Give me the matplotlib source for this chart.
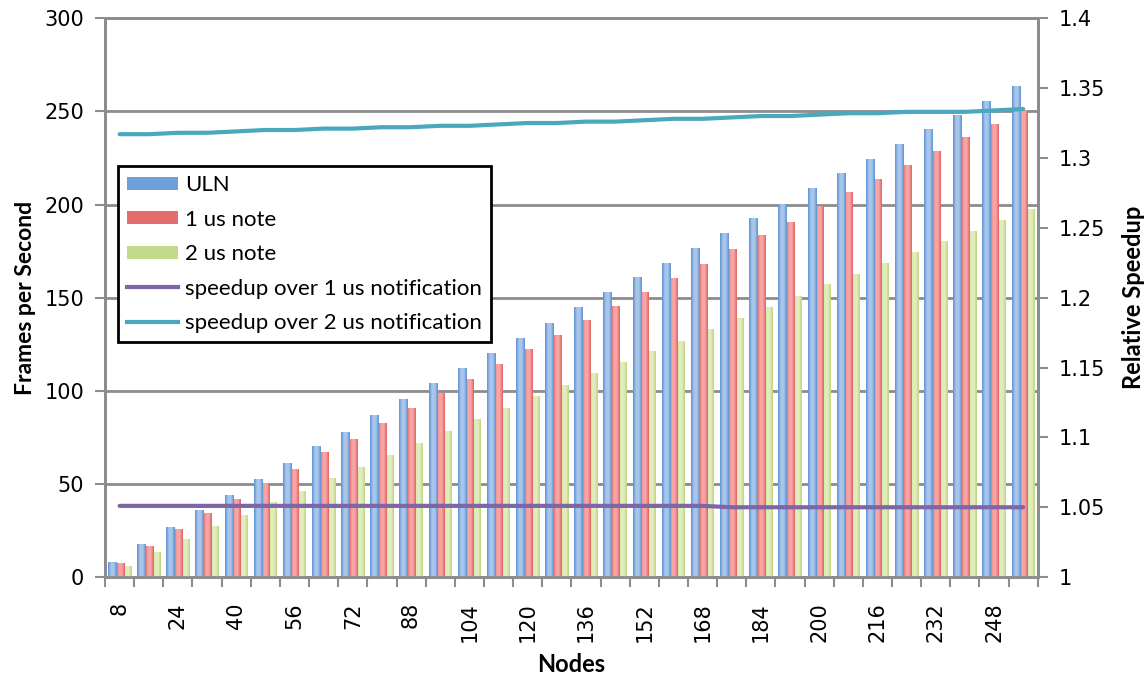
import numpy as np
import matplotlib
matplotlib.use("Agg")
import matplotlib.pyplot as plt
from matplotlib.colors import LinearSegmentedColormap
from matplotlib.patches import Patch
from matplotlib.lines import Line2D

# Node counts on the x axis
nodes = [8, 16, 24, 32, 40, 48, 56, 64, 72, 80, 88, 96, 104, 112, 120, 128,
         136, 144, 152, 160, 168, 176, 184, 192, 200, 208, 216, 224, 232, 240, 248, 256]

# Frames per second for each notification scheme
fps_uln = [8.0, 17.6, 26.9, 35.9, 43.9, 52.9, 61.3, 70.3, 78.0, 87.0, 95.4, 104.0,
           112.0, 120.4, 128.6, 136.4, 145.0, 153.0, 161.1, 168.6, 176.7, 184.9,
           192.8, 200.5, 209.1, 217.0, 224.7, 232.4, 240.3, 248.0, 255.7, 263.6]
fps_1us = [7.6, 16.7, 25.6, 34.2, 41.8, 50.3, 58.3, 66.9, 74.2, 82.8, 90.8, 99.0,
           106.6, 114.6, 122.4, 129.8, 138.0, 145.6, 153.3, 160.4, 168.1, 175.9,
           183.4, 190.8, 199.0, 206.5, 213.8, 221.1, 228.6, 236.0, 243.3, 250.8]
fps_2us = [6.1, 13.4, 20.4, 27.2, 33.3, 40.1, 46.4, 53.2, 59.0, 65.8, 72.2, 78.6,
           84.7, 90.9, 97.1, 102.9, 109.4, 115.4, 121.4, 127.0, 133.1, 139.1,
           145.0, 150.8, 157.1, 162.9, 168.7, 174.3, 180.3, 186.0, 191.7, 197.5]

# Relative speedup of ULN over the note-based schemes
speedup_1us = [1.051] * 21 + [1.050] * 11
speedup_2us = [1.317, 1.317, 1.318, 1.318, 1.319, 1.320, 1.320, 1.321, 1.321, 1.322,
               1.322, 1.323, 1.323, 1.324, 1.325, 1.325, 1.326, 1.326, 1.327, 1.328,
               1.328, 1.329, 1.330, 1.330, 1.331, 1.332, 1.332, 1.333, 1.333, 1.333,
               1.334, 1.335]

left_ticks = [0, 50, 100, 150, 200, 250, 300]
right_ticks = [1.0, 1.05, 1.1, 1.15, 1.2, 1.25, 1.3, 1.35, 1.4]
right_labels = ["1", "1.05", "1.1", "1.15", "1.2", "1.25", "1.3", "1.35", "1.4"]

GRID = "#8c8c8c"
LABEL_FONT = ["Lato", "DejaVu Sans"]

fig = plt.figure(figsize=(11.48, 6.75), dpi=100)
ax = fig.add_axes([0.0915, 0.145, 0.8125, 0.828])
x = np.arange(len(nodes))

grad = np.linspace(0, 1, 64).reshape(1, -1)


def shaded_bars(xpos, heights, width, edge, mid, z):
    bars = ax.bar(xpos, heights, width, color="none", linewidth=0, zorder=z)
    cmap = LinearSegmentedColormap.from_list("shade", [edge, mid, mid, edge])
    for b in bars:
        x0, w, h = b.get_x(), b.get_width(), b.get_height()
        im = ax.imshow(grad, cmap=cmap, extent=(x0, x0 + w, 0, h), aspect="auto",
                       interpolation="bicubic", zorder=z)
        im.set_clip_path(b)
    return bars


bw = 0.28
shaded_bars(x + 0.24, fps_2us, bw, "#bcd47c", "#e2edbf", 2.8)
shaded_bars(x + 0.0, fps_1us, bw, "#df5f5f", "#f7a5a5", 2.9)
shaded_bars(x - 0.26, fps_uln, bw, "#5a8fd0", "#a9c7ec", 3.0)

ax.set_xlim(-0.5, len(nodes) - 0.5)
ax.set_ylim(0, 300)
ax.set_yticks(left_ticks)
ax.set_axisbelow(True)
ax.yaxis.grid(True, color=GRID, linewidth=2, zorder=0)

ax.set_xticks(x[::2])
ax.set_xticklabels([str(n) for n in nodes[::2]], rotation=90, va="top", ha="center")
ax.set_xticks(np.arange(-0.5, len(nodes), 1), minor=True)
ax.tick_params(axis="x", which="major", length=0, pad=18, labelsize=15)
ax.tick_params(axis="x", which="minor", length=7, width=1.5, color=GRID)
ax.tick_params(axis="y", length=7, width=1.5, color=GRID, labelsize=15, pad=8)

for s in ax.spines.values():
    s.set_color(GRID)
    s.set_linewidth(2)

ax.set_xlabel("Nodes", fontsize=17, fontweight="bold", family=LABEL_FONT, labelpad=8)
ax.set_ylabel("Frames per Second", fontsize=16.5, fontweight="bold", family=LABEL_FONT,
              labelpad=6)

ax2 = ax.twinx()
ax2.set_ylim(1.0, 1.4)
ax2.set_yticks(right_ticks)
ax2.set_yticklabels(right_labels)
ax2.tick_params(axis="y", length=7, width=1.5, color=GRID, labelsize=15, pad=8)
for s in ax2.spines.values():
    s.set_color(GRID)
    s.set_linewidth(2)
ax2.plot(x, speedup_1us, color="#7d65a6", linewidth=3, solid_capstyle="round", zorder=4)
ax2.plot(x, speedup_2us, color="#48a9bd", linewidth=3, solid_capstyle="round", zorder=4)
ax2.set_ylabel("Relative Speedup", fontsize=17, fontweight="bold", family=LABEL_FONT,
               labelpad=12)

handles = [
    Patch(facecolor="#6f9fd8", edgecolor="none"),
    Patch(facecolor="#e36c6c", edgecolor="none"),
    Patch(facecolor="#c3d98b", edgecolor="none"),
    Line2D([], [], color="#7d65a6", linewidth=3),
    Line2D([], [], color="#48a9bd", linewidth=3),
]
names = ["ULN", "1 us note", "2 us note", "speedup over 1 us notification",
         "speedup over 2 us notification"]
leg = ax2.legend(handles, names, loc="upper left", bbox_to_anchor=(0.014, 0.735),
                 borderaxespad=0, frameon=True, fancybox=False, handlelength=2.3,
                 handleheight=0.5, handletextpad=0.3, labelspacing=0.65,
                 borderpad=0.4, prop={"family": LABEL_FONT, "size": 16})
leg.get_frame().set_edgecolor("black")
leg.get_frame().set_linewidth(2)
leg.get_frame().set_alpha(1)

fig.savefig("out.png", dpi=100)
